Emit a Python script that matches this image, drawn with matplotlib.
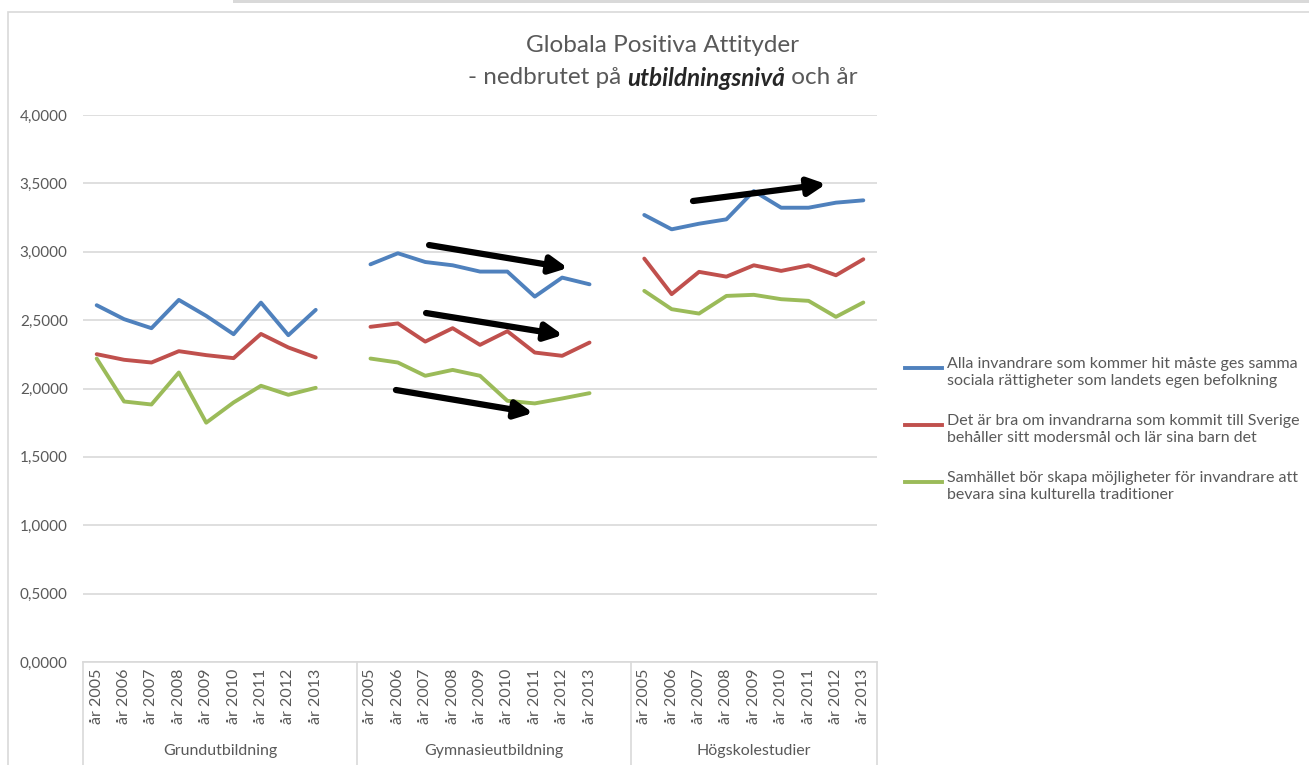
import matplotlib
matplotlib.use("Agg")
import matplotlib.pyplot as plt
import matplotlib.transforms as mtransforms
from matplotlib.lines import Line2D
from matplotlib.patches import Rectangle

plt.rcParams['font.family'] = ['Lato', 'DejaVu Sans']

# data
years = ['år 2005', 'år 2006', 'år 2007', 'år 2008', 'år 2009',
         'år 2010', 'år 2011', 'år 2012', 'år 2013']
groups = ['Grundutbildning', 'Gymnasieutbildning', 'Högskolestudier']

blue_grund = [2.609, 2.507, 2.441, 2.648, 2.531, 2.397, 2.628, 2.390, 2.575]
blue_gymn = [2.908, 2.989, 2.925, 2.901, 2.855, 2.855, 2.672, 2.811, 2.762]
blue_hogsk = [3.269, 3.164, 3.205, 3.237, 3.444, 3.322, 3.322, 3.359, 3.376]

red_grund = [2.251, 2.210, 2.190, 2.273, 2.244, 2.222, 2.399, 2.300, 2.227]
red_gymn = [2.451, 2.476, 2.343, 2.441, 2.319, 2.419, 2.263, 2.239, 2.336]
red_hogsk = [2.950, 2.690, 2.853, 2.818, 2.901, 2.860, 2.901, 2.828, 2.945]

green_grund = [2.219, 1.905, 1.883, 2.117, 1.750, 1.898, 2.020, 1.954, 2.005]
green_gymn = [2.219, 2.190, 2.093, 2.136, 2.093, 1.910, 1.891, 1.927, 1.966]
green_hogsk = [2.714, 2.580, 2.548, 2.677, 2.685, 2.653, 2.641, 2.524, 2.629]

series_labels = [
    'Alla invandrare som kommer hit måste ges samma\nsociala rättigheter som landets egen befolkning',
    'Det är bra om invandrarna som kommit till Sverige\nbehåller sitt modersmål och lär sina barn det',
    'Samhället bör skapa möjligheter för invandrare att\nbevara sina kulturella traditioner',
]
colors = ['#4F81BD', '#C0504D', '#9BBB59']

# trend arrows drawn on the chart (start x, start y, end x, end y)
arrows = [
    (12.14, 3.049, 17.21, 2.881),
    (12.03, 2.552, 17.03, 2.391),
    (10.93, 1.989, 15.94, 1.821),
    (21.78, 3.371, 26.64, 3.495),
]

text_col = '#595959'
grid_col = '#D9D9D9'

fig = plt.figure(figsize=(13.09, 7.65), dpi=100)
ax = fig.add_axes([83/1309, 1-662/765, (877-83)/1309, (662-115)/765])

# chart frame and top bar (screenshot decoration)
fig.patches.append(Rectangle((8/1309, -0.01), 1.2, 1-12/765+0.01, transform=fig.transFigure,
                             fill=False, edgecolor='#D9D9D9', lw=1.2))
fig.patches.append(Rectangle((233/1309, 1-3/765), 1.0, 0.01, transform=fig.transFigure,
                             facecolor='#D9D9D9', edgecolor='none'))

all_series = [
    (blue_grund, blue_gymn, blue_hogsk),
    (red_grund, red_gymn, red_hogsk),
    (green_grund, green_gymn, green_hogsk),
]
tick_pos = []
tick_lab = []
for gi in range(3):
    xs = [gi * 10 + i for i in range(len(years))]
    tick_pos += xs
    tick_lab += years
for col, ser in zip(colors, all_series):
    for gi, vals in enumerate(ser):
        xs = [gi * 10 + i for i in range(len(vals))]
        ax.plot(xs, vals, color=col, lw=2.8, solid_capstyle='round', solid_joinstyle='round', zorder=3)

for (x0, y0, x1, y1) in arrows:
    ax.annotate('', xy=(x1, y1), xytext=(x0, y0),
                arrowprops=dict(arrowstyle='-|>', color='black', lw=4.5, mutation_scale=26,
                                shrinkA=0, shrinkB=0), zorder=5)

ax.set_xlim(-0.5, 28.5)
ax.set_ylim(0, 4)
ax.set_yticks([i * 0.5 for i in range(9)])
ax.set_yticklabels([f'{i*0.5:.4f}'.replace('.', ',') for i in range(9)])
ax.yaxis.grid(True, color=grid_col, lw=1.2)
ax.set_axisbelow(True)
for s in ['top', 'right', 'left']:
    ax.spines[s].set_visible(False)
ax.spines['bottom'].set_color(grid_col)
ax.spines['bottom'].set_linewidth(1.2)
ax.tick_params(axis='y', length=0, pad=11, labelsize=11, labelcolor=text_col)
ax.set_xticks(tick_pos)
ax.set_xticklabels(tick_lab, rotation=90, fontsize=11.5, color=text_col)
ax.tick_params(axis='x', length=0, pad=5)

# group separators and labels below the axis
trans = mtransforms.blended_transform_factory(ax.transData, ax.transAxes)
for xb in [-0.5, 9.5, 19.5, 28.5]:
    ax.plot([xb, xb], [0, -0.2], transform=trans, color=grid_col, lw=1.2, clip_on=False)
for gi, g in enumerate(groups):
    ax.text(gi * 10 + 4.5 if gi < 2 else 24, -0.162, g, transform=trans, ha='center', va='center',
            fontsize=11.5, color=text_col)

# title
fig.text(662/1309, 1-45/765, 'Globala Positiva Attityder', ha='center', va='center',
         fontsize=17.5, color=text_col)
parts = [('- nedbrutet på ', 'normal', 'normal'),
         ('utbildningsnivå', 'bold', 'italic'),
         (' och år', 'normal', 'normal')]
renderer = fig.canvas.get_renderer()
widths = []
for txt, w, st in parts:
    t = fig.text(0, 0, txt, fontsize=17.5, fontweight=w, fontstyle=st)
    widths.append(t.get_window_extent(renderer).width)
    t.remove()
x = 663 - sum(widths) / 2
for (txt, w, st), wd in zip(parts, widths):
    fig.text(x / 1309, 1-78/765, txt, ha='left', va='center', fontsize=17.5,
             fontweight=w, fontstyle=st, color='#262626' if w == 'bold' else text_col)
    x += wd

# legend
for i, (lab, col) in enumerate(zip(series_labels, colors)):
    yl = 1 - (368 + 57 * i) / 765
    fig.add_artist(Line2D([905/1309, 942/1309], [yl, yl], color=col, lw=2.8,
                          transform=fig.transFigure))
    fig.text(947/1309, yl + 11/765, lab, ha='left', va='top', fontsize=11.5,
             color=text_col, linespacing=1.3)

fig.savefig('out.png', dpi=100)
